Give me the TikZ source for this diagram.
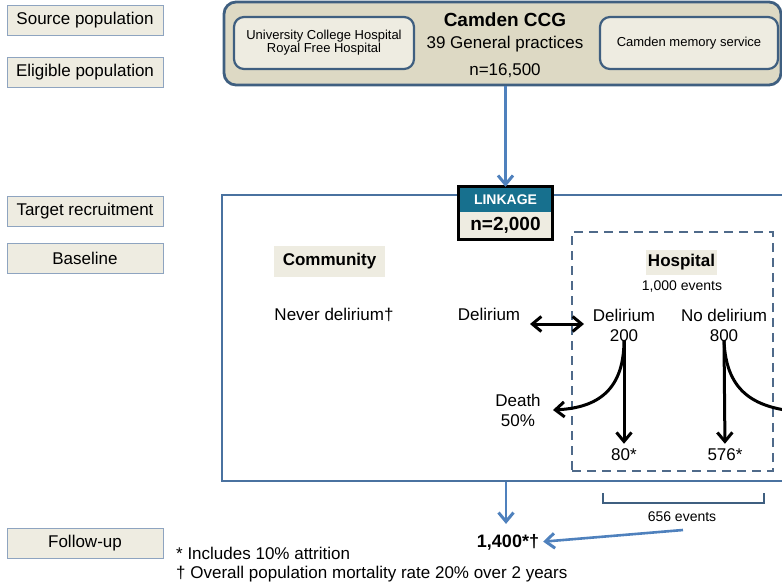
\documentclass[tikz,border=0pt]{standalone}
\usepackage{fontspec}
\setmainfont{Liberation Sans}
\usetikzlibrary{arrows.meta}
\definecolor{lblfill}{HTML}{EEECE1}
\definecolor{lblborder}{HTML}{8EA4C0}
\definecolor{tanfill}{HTML}{DDD9C4}
\definecolor{darkblue}{HTML}{3F5F80}
\definecolor{boxblue}{HTML}{4A72A0}
\definecolor{arrowblue}{HTML}{4F81BD}
\definecolor{teal}{HTML}{17708E}
\definecolor{dashblue}{HTML}{4F6A8A}
\newcommand\fsz[1]{\fontsize{#1}{#1}\selectfont}
\tikzset{mybarb/.tip={Straight Barb[length=9pt,width=15pt,line width=3pt]}}
\begin{document}
\begin{tikzpicture}[x=1pt,y=-1pt,
  stagebox/.style={draw=lblborder, fill=lblfill, line width=1pt, minimum width=156pt, minimum height=30pt, inner sep=0pt, font=\fsz{17}},
  txt/.style={inner sep=0pt, font=\fsz{17}, align=center},
  btxt/.style={inner sep=0pt, font=\fsz{18}\bfseries, align=center},
  stxt/.style={inner sep=0pt, font=\fsz{14}, align=center},
  innerbox/.style={draw=darkblue, fill=lblfill, line width=2.2pt, rounded corners=10pt, minimum width=178pt, minimum height=52pt, inner sep=0pt, font=\fsz{13}, align=center},
  blackarrow/.style={line width=3pt, -mybarb},
  bluearrow/.style={line width=2.6pt, arrowblue, -mybarb}
]
\useasboundingbox (0,0) rectangle (782,587);
\clip (0,0) rectangle (782,587);

% left stage labels
\node[stagebox] (src) at (85,20) {Source population};
\node[stagebox] (elig) at (85,72) {Eligible population};
\node[stagebox] (targ) at (85,211) {Target recruitment};
\node[stagebox] (base) at (85,258) {Baseline};
\node[stagebox] (fup) at (85,543) {Follow-up};

% Camden box
\node[draw=darkblue, fill=tanfill, line width=2.8pt, rounded corners=12pt, minimum width=557pt, minimum height=83pt, inner sep=0pt] (camden) at (502.5,43.5) {};
\node[innerbox, minimum width=180pt] (uch) at (324,43) {University College Hospital\\Royal Free Hospital};
\node[innerbox] (cms) at (689,43) {Camden memory service};
\node[inner sep=0pt, font=\fsz{19}\bfseries] (ccg) at (505,20) {Camden CCG};
\node[txt] (gp) at (505,44) {39 General practices};
\node[txt] (n16) at (505,71) {n=16,500};

% main box
\node[draw=boxblue, line width=2.5pt, minimum width=568pt, minimum height=286pt, inner sep=0pt] (main) at (506,338) {};

% linkage
\node[fill=teal, text=white, font=\fsz{14}\bfseries, minimum width=93pt, minimum height=25pt, inner sep=0pt] (linkhead) at (505.5,199.5) {LINKAGE};
\node[fill=lblfill, font=\fsz{19}\bfseries, minimum width=93pt, minimum height=27pt, inner sep=0pt] (linkval) at (505.5,225.5) {n=2,000};
\draw[line width=3pt] (linkhead.north west) rectangle (linkval.south east);
\draw[bluearrow] (camden.south -| linkhead.north) -- (linkhead.north);

% community
\node[fill=lblfill, font=\fsz{17}\bfseries, minimum width=111pt, minimum height=31pt, inner sep=0pt] (comm) at (329.5,261.5) {Community};
\node[txt] (never) at (334,315) {Never delirium†};
\node[txt] (cdel) at (489,314) {Delirium};

% hospital
\node[draw=dashblue, line width=1.8pt, dash pattern=on 9pt off 6pt, minimum width=201pt, minimum height=239pt, inner sep=0pt] (hosp) at (672.5,351.5) {};
\node[fill=lblfill, font=\fsz{17}\bfseries, minimum width=71pt, minimum height=25pt, inner sep=0pt] (hosplbl) at (681.5,262) {Hospital};
\node[stxt] (hev) at (682,287) {1,000 events};
\node[txt] (hdel) at (624,315) {Delirium};
\node[txt] (h200) at (624,336) {200};
\node[txt] (hnodel) at (724,315) {No delirium};
\node[txt] (h800) at (724,336) {800};
\node[txt] (n80) at (624,455) {80*};
\node[txt] (n576) at (725,455) {576*};
\node[txt] (death) at (518,410) {Death\\[3pt]50\%};

\coordinate (da1) at (530,324);
\coordinate (da2) at (584,324);
\draw[line width=3pt, mybarb-mybarb] (da1) -- (da2);

\coordinate (dtip) at (553,410);
\draw[blackarrow] ([yshift=2pt]h200.south) .. controls (624,395) and (592,408) .. (dtip);
\draw[blackarrow, shorten >=5pt] ([yshift=2pt]h200.south) -- (n80.north);
\coordinate (rtip) at (800,412);
\draw[line width=3pt] ([yshift=2pt]h800.south) .. controls (726,395) and (758,408) .. (rtip);
\draw[blackarrow, shorten >=5pt] ([yshift=2pt]h800.south) -- (n576.north);

% follow-up
\node[btxt] (n1400) at (508,542) {1,400*†};
\draw[bluearrow, shorten >=10pt] (main.south) -- (main.south |- n1400.north);
\coordinate (bl) at (603,493);
\coordinate (br) at (764,493);
\draw[darkblue, line width=2.8pt] (bl) -- ++(0,10) -| (br);
\node[stxt] (e656) at (682,517) {656 events};
\coordinate (e656s) at (683,530);
\draw[bluearrow, shorten >=4pt] (e656s) -- (n1400.east);

% footnotes
\node[txt, anchor=west] (fn1) at (176,553) {* Includes 10\% attrition};
\node[txt, anchor=west] (fn2) at (176,574) {† Overall population mortality rate 20\% over 2 years};
\end{tikzpicture}
\end{document}
